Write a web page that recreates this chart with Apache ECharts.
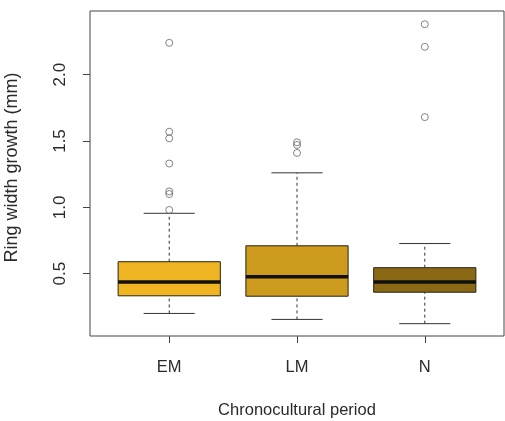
<!DOCTYPE html>
<html>
<head>
<meta charset="utf-8">
<script src="https://cdn.jsdelivr.net/npm/echarts@6/dist/echarts.min.js"></script>
<style>
html, body { margin: 0; padding: 0; background: #fff; }
#chart { width: 505px; height: 421px; }
</style>
</head>
<body>
<div id="chart"></div>
<script>
const categories = ['EM', 'LM', 'N'];
// [lower whisker, Q1, median, Q3, upper whisker]
const statsEM = [0.20, 0.333, 0.438, 0.59, 0.955];
const statsLM = [0.155, 0.33, 0.477, 0.71, 1.26];
const statsN = [0.123, 0.36, 0.438, 0.545, 0.727];
const outliersEM = [2.24, 1.57, 1.52, 1.33, 1.12, 1.10, 0.98];
const outliersLM = [1.49, 1.47, 1.41];
const outliersN = [2.38, 2.21, 1.68];
const yTicks = [0.5, 1.0, 1.5, 2.0];
const boxColors = ['#EEB422', '#CD9B1D', '#8B6914'];

const allStats = [statsEM, statsLM, statsN];
const allOutliers = [outliersEM, outliersLM, outliersN];

const boxData = allStats.map((s, i) => [i + 1].concat(s));
const outlierData = [];
allOutliers.forEach((list, i) => list.forEach(v => outlierData.push([i + 1, v])));

const chart = echarts.init(document.getElementById('chart'));

const font = 'Liberation Sans, Arial, sans-serif';
const textColor = '#2a2a2a';

chart.setOption({
    animation: false,
    grid: {
        left: 90,
        right: 1,
        top: 11,
        bottom: 85,
        outerBoundsMode: 'none',
        containLabel: false,
        show: true,
        borderColor: '#444',
        borderWidth: 1,
        backgroundColor: 'transparent'
    },
    xAxis: {
        type: 'value',
        min: 0.38,
        max: 3.62,
        name: 'Chronocultural period',
        nameLocation: 'middle',
        nameGap: 66,
        nameTextStyle: { fontFamily: font, color: textColor, fontSize: 16.5 },
        axisLine: { show: false },
        splitLine: { show: false },
        axisTick: {
            show: true,
            length: 7,
            customValues: [1, 2, 3],
            lineStyle: { color: '#444' }
        },
        axisLabel: {
            customValues: [1, 2, 3],
            margin: 23,
            formatter: v => categories[Math.round(v) - 1],
            fontFamily: font,
            color: textColor,
            fontSize: 16.5
        }
    },
    yAxis: {
        type: 'value',
        min: 0.03,
        max: 2.48,
        name: 'Ring width growth (mm)',
        nameLocation: 'middle',
        nameGap: 69,
        nameTextStyle: { fontFamily: font, color: textColor, fontSize: 18, padding: [0, 0, 0, 12] },
        axisLine: { show: false },
        splitLine: { show: false },
        axisTick: {
            show: true,
            length: 7,
            customValues: yTicks,
            lineStyle: { color: '#444' }
        },
        axisLabel: {
            customValues: yTicks,
            rotate: 90,
            margin: 21,
            formatter: v => v.toFixed(1),
            fontFamily: font,
            color: textColor,
            fontSize: 17
        }
    },
    series: [
        {
            type: 'custom',
            data: boxData,
            encode: { x: 0, y: [1, 2, 3, 4, 5] },
            renderItem: function (params, api) {
                const x = api.value(0);
                const lo = api.value(1), q1 = api.value(2), med = api.value(3), q3 = api.value(4), hi = api.value(5);
                const half = 0.4, cap = 0.2;
                const c = (a, b) => api.coord([a, b]);
                const topLeft = c(x - half, q3);
                const botRight = c(x + half, q1);
                const dashed = { stroke: '#333', lineWidth: 1, lineDash: [3, 3] };
                const solid = { stroke: '#333', lineWidth: 1 };
                const line = (p1, p2, style) => ({
                    type: 'line',
                    shape: { x1: p1[0], y1: p1[1], x2: p2[0], y2: p2[1] },
                    style: style
                });
                return {
                    type: 'group',
                    children: [
                        line(c(x, q3), c(x, hi), dashed),
                        line(c(x, lo), c(x, q1), dashed),
                        line(c(x - cap, hi), c(x + cap, hi), solid),
                        line(c(x - cap, lo), c(x + cap, lo), solid),
                        {
                            type: 'rect',
                            shape: {
                                x: topLeft[0],
                                y: topLeft[1],
                                width: botRight[0] - topLeft[0],
                                height: botRight[1] - topLeft[1]
                            },
                            style: { fill: boxColors[params.dataIndex], stroke: '#2a2418', lineWidth: 1 }
                        },
                        line(c(x - half, med), c(x + half, med), { stroke: '#111', lineWidth: 3.5 })
                    ]
                };
            }
        },
        {
            type: 'scatter',
            data: outlierData,
            symbol: 'circle',
            symbolSize: 7,
            itemStyle: { color: 'rgba(255,255,255,0)', borderColor: '#666', borderWidth: 1 }
        }
    ]
});
</script>
</body>
</html>
